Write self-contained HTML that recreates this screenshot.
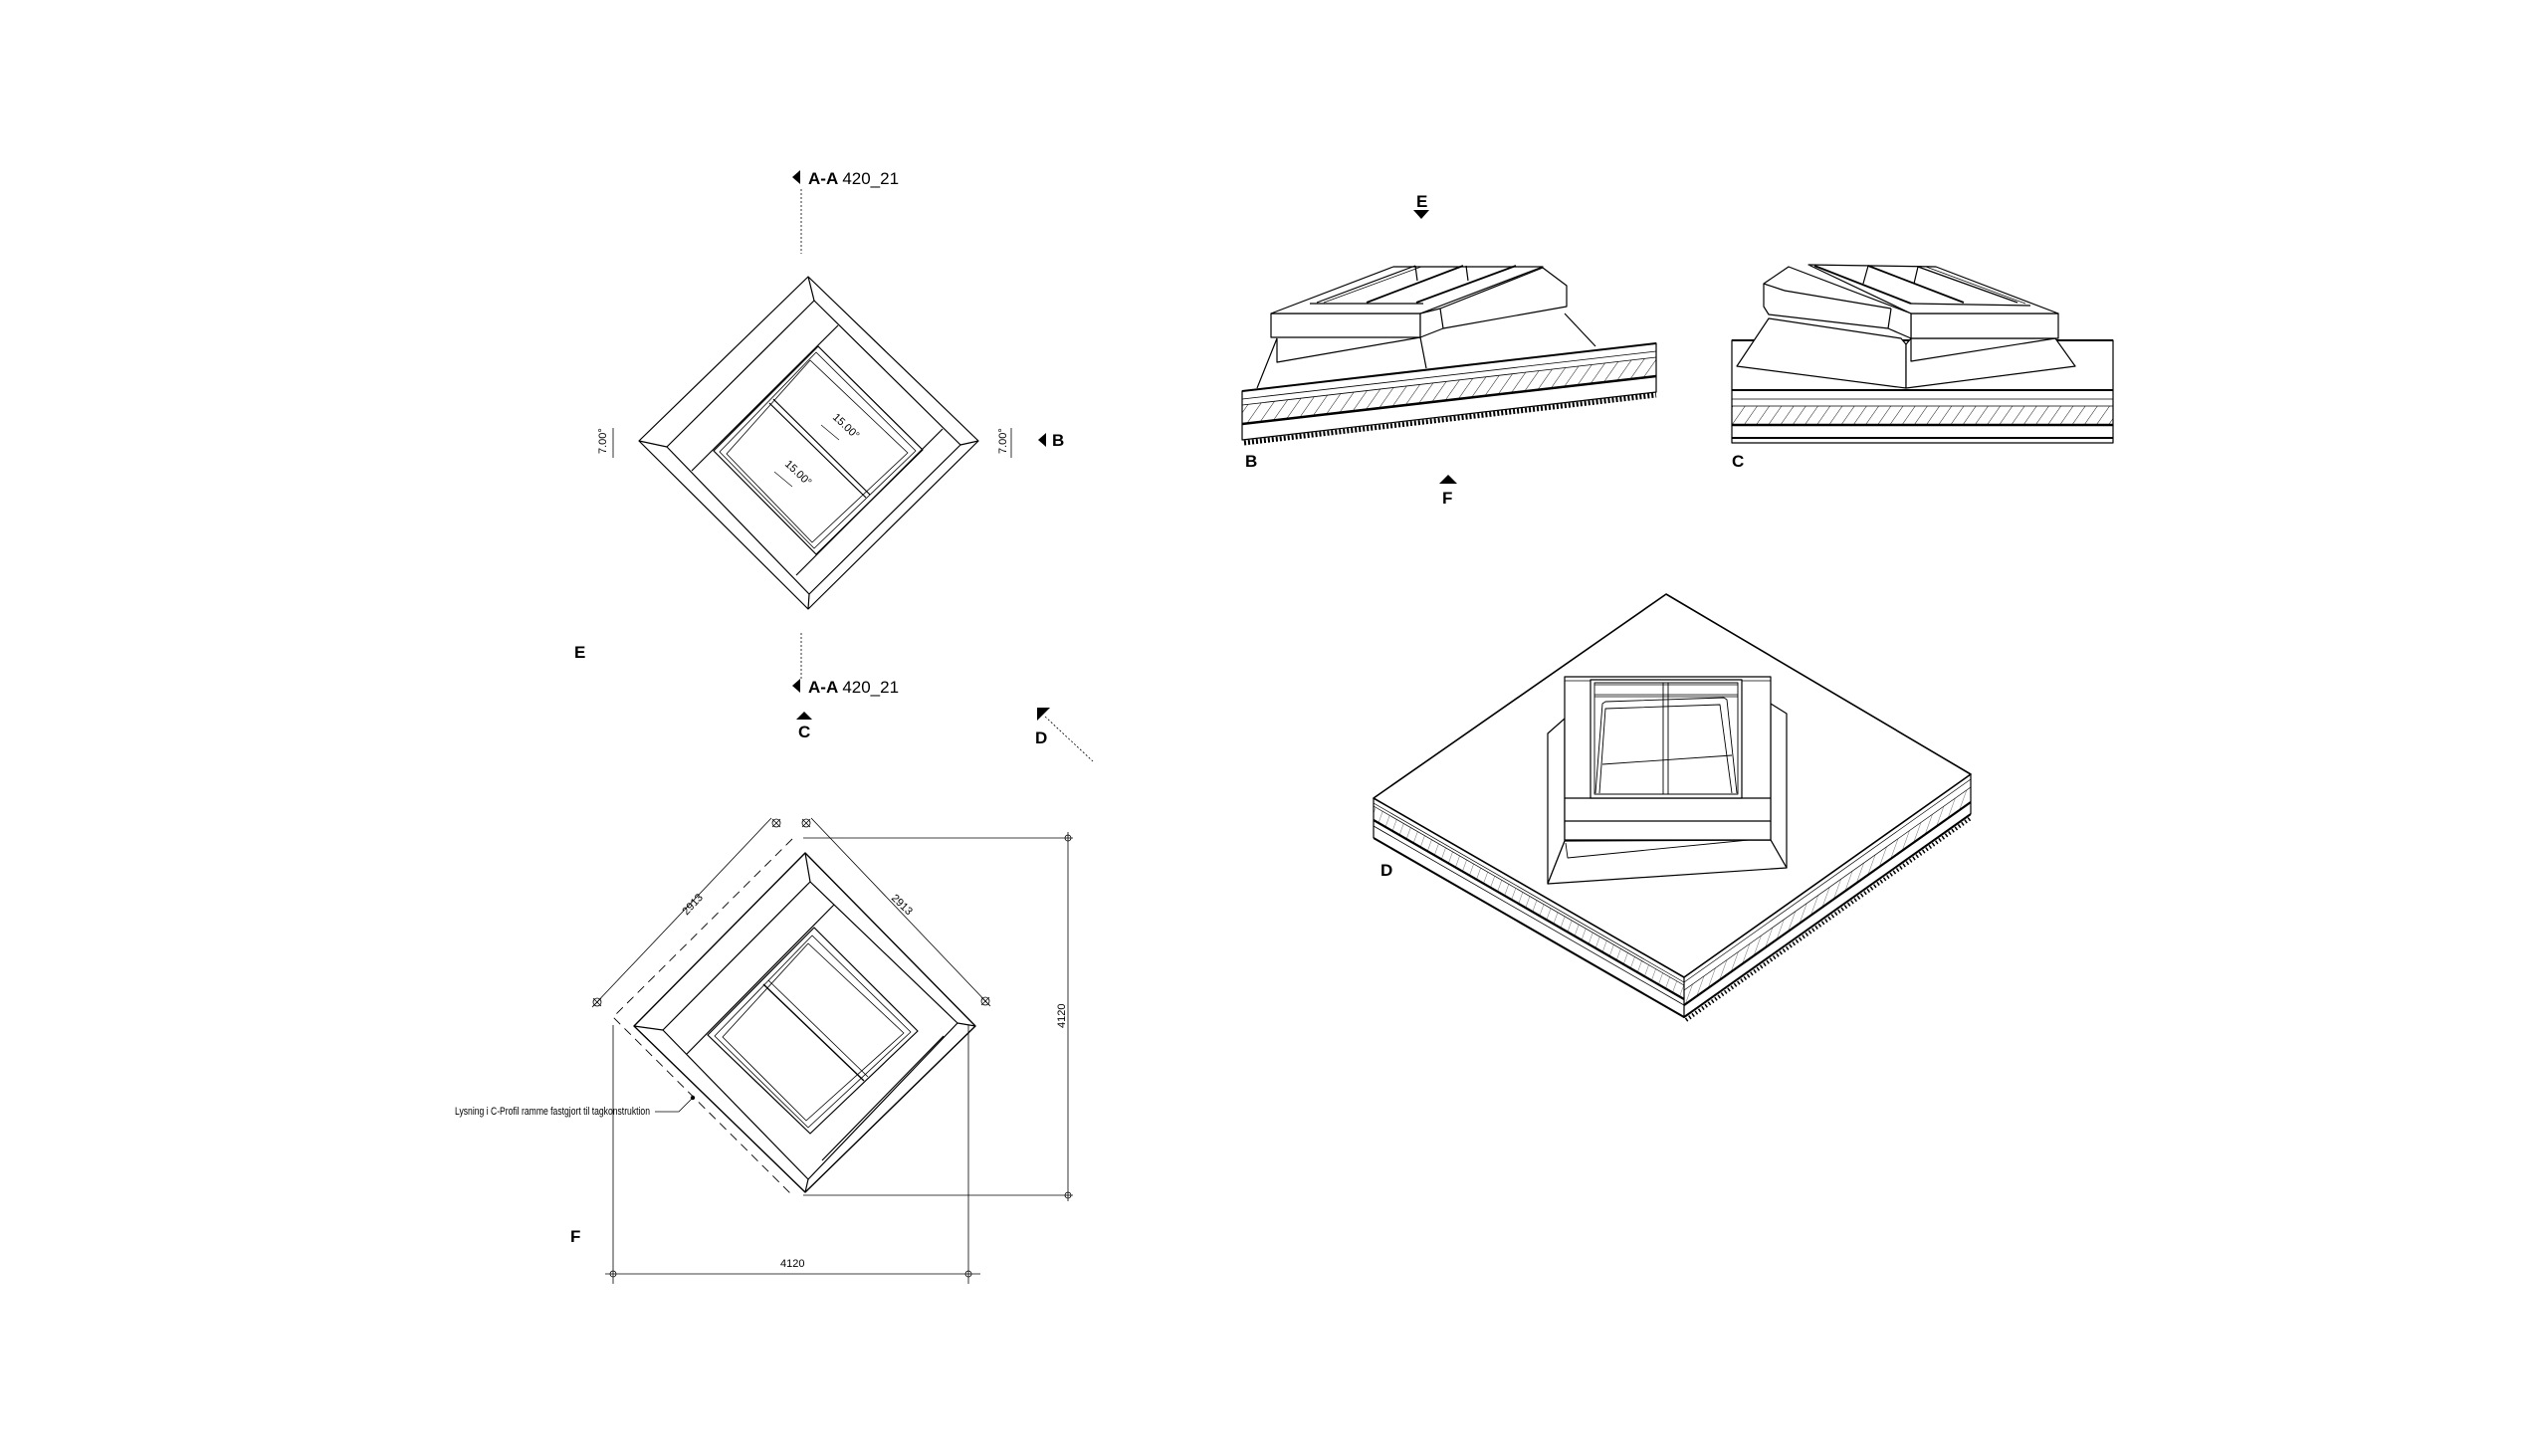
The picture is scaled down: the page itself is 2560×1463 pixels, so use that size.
<!DOCTYPE html>
<html><head><meta charset="utf-8"><style>
html,body{margin:0;padding:0;background:#fff}
svg{display:block}
text{font-family:"Liberation Sans",sans-serif;fill:#000}
.b{font-weight:bold;font-size:17px}
.s{font-size:11px}
.t{font-size:11px;font-family:"Liberation Sans Narrow","Liberation Sans",sans-serif}
</style></head><body>
<svg width="2560" height="1463" viewBox="0 0 2560 1463" xmlns="http://www.w3.org/2000/svg">
<defs>
<pattern id="h" width="10" height="10" patternUnits="userSpaceOnUse" patternTransform="rotate(35)">
<line x1="0" y1="0" x2="0" y2="10" stroke="#000" stroke-width="0.9"/>
</pattern>
<pattern id="h2" width="8" height="8" patternUnits="userSpaceOnUse" patternTransform="rotate(20)">
<line x1="0" y1="0" x2="0" y2="8" stroke="#333" stroke-width="0.7"/>
</pattern>
</defs>
<rect width="2560" height="1463" fill="#fff"/>
<g fill="none" stroke="#000" stroke-width="1.2" stroke-linejoin="round">

<!-- ===== TOP PLAN (E) ===== -->
<polygon points="812,278 983,443 812,612 642,443"/>
<polygon points="818,302 965,447 813,597 670,449"/>
<line x1="812" y1="278" x2="818" y2="302"/><line x1="983" y1="443" x2="965" y2="447"/>
<line x1="812" y1="612" x2="813" y2="597"/><line x1="642" y1="443" x2="670" y2="449"/>
<line x1="842" y1="327" x2="695" y2="473"/>
<line x1="947" y1="431" x2="800" y2="578"/>
<polygon points="822,348 927,452 820,557 717,453"/>
<polygon points="820,354 920,453 818,551 723,454" stroke-width="0.8"/>
<polygon points="814,362 912,455 816,545 730,456" stroke-width="0.8"/>
<line x1="773" y1="405" x2="870" y2="500"/><line x1="777" y1="401" x2="874" y2="497"/>
<!-- labels -->
<polygon points="796,178 804,171 804,185" fill="#000" stroke="none"/>
<line x1="805" y1="190" x2="805" y2="255" stroke-width="0.8" stroke-dasharray="2,2"/>
<polygon points="796,689 804,682 804,696" fill="#000" stroke="none"/>
<line x1="805" y1="636" x2="805" y2="682" stroke-width="0.8" stroke-dasharray="2,2"/>
<polygon points="800,723 808,715 816,723" fill="#000" stroke="none"/>
<polygon points="1042,711 1055,711 1042,724" fill="#000" stroke="none"/>
<line x1="1050" y1="720" x2="1098" y2="765" stroke-width="0.8" stroke-dasharray="2,2"/>
<polygon points="1043,442 1051,435 1051,449" fill="#000" stroke="none"/>
<line x1="616" y1="430" x2="616" y2="460" stroke-width="0.8"/>
<line x1="1016" y1="430" x2="1016" y2="460" stroke-width="0.8"/>
<line x1="825" y1="427" x2="843" y2="442" stroke-width="0.6"/>
<line x1="778" y1="474" x2="796" y2="489" stroke-width="0.6"/>

<!-- ===== SECTION B ===== -->
<polygon points="1248,393 1664,345 1664,394 1248,442" fill="#fff"/>
<line x1="1248" y1="401" x2="1664" y2="353" stroke-width="0.8"/>
<line x1="1248" y1="407" x2="1664" y2="359" stroke-width="0.8"/>
<polygon points="1248,407 1664,359 1664,378 1248,426" fill="url(#h)" stroke="none"/>
<line x1="1248" y1="426" x2="1664" y2="378" stroke-width="2.5"/>
<line x1="1248" y1="393" x2="1664" y2="345" stroke-width="2"/>
<line x1="1250" y1="445" x2="1664" y2="397" stroke-width="5" stroke-dasharray="2,2"/>
<!-- skylight B -->
<polygon points="1263,390 1283,340 1427,339 1433,368 1450,330 1574,308 1603,348 1433,369" fill="#fff" stroke="none"/>
<line x1="1283" y1="340" x2="1263" y2="390"/>
<polyline points="1283,340 1283,364 1427,339"/>
<line x1="1427" y1="339" x2="1433" y2="370"/>
<line x1="1572" y1="315" x2="1603" y2="348"/>
<rect x="1277" y="315" width="150" height="24" fill="#fff"/>
<polygon points="1277,315 1400,268 1550,268 1427,315" fill="#fff"/>
<polygon points="1427,315 1447,310 1550,269 1574,287 1574,308 1450,330 1427,339" fill="#fff"/>
<line x1="1447" y1="310" x2="1450" y2="330"/>
<line x1="1323" y1="304" x2="1422" y2="267"/><line x1="1330" y1="304" x2="1428" y2="268" stroke-width="0.7"/>
<line x1="1373" y1="304" x2="1470" y2="267" stroke-width="1.8"/>
<line x1="1423" y1="304" x2="1523" y2="267" stroke-width="1.8"/>
<line x1="1422" y1="267" x2="1424" y2="282"/><line x1="1473" y1="267" x2="1475" y2="282"/>
<line x1="1316" y1="305" x2="1430" y2="305"/>

<!-- ===== SECTION C ===== -->
<rect x="1740" y="342" width="383" height="103" fill="#fff"/>
<line x1="1740" y1="342" x2="2123" y2="342" stroke-width="2"/>
<line x1="1740" y1="392" x2="2123" y2="392" stroke-width="2"/>
<line x1="1740" y1="401" x2="2123" y2="401" stroke-width="0.8"/>
<rect x="1740" y="408" width="383" height="19" fill="url(#h)" stroke="none"/>
<line x1="1740" y1="408" x2="2123" y2="408" stroke-width="0.8"/>
<line x1="1740" y1="427" x2="2123" y2="427" stroke-width="2.5"/>
<line x1="1740" y1="440" x2="2123" y2="440" stroke-width="2"/>
<line x1="1740" y1="445" x2="2123" y2="445" stroke-width="0.8"/>
<polygon points="1777,320 1910,340 1915,346 1915,390 1745,368" fill="#fff"/>
<polygon points="1915,390 1915,346 1920,340 2065,340 2085,368" fill="#fff"/>
<polyline points="1920,340 1920,363 2065,340"/>
<rect x="1920" y="315" width="148" height="25" fill="#fff"/>
<polygon points="1817,266 1945,268 2068,315 1920,315" fill="#fff"/>
<polygon points="1772,285 1797,268 1920,315 1920,340 1897,330 1777,316 1772,308" fill="#fff"/>
<line x1="1793" y1="292" x2="1900" y2="310"/><line x1="1900" y1="310" x2="1897" y2="330"/>
<line x1="1772" y1="285" x2="1793" y2="292"/>
<line x1="1823" y1="267" x2="1920" y2="305" stroke-width="1.8"/>
<line x1="1877" y1="267" x2="1973" y2="304" stroke-width="1.8"/>
<line x1="1927" y1="268" x2="2027" y2="304"/><line x1="1935" y1="268" x2="2035" y2="305" stroke-width="0.7"/>
<line x1="1877" y1="267" x2="1872" y2="285"/><line x1="1927" y1="268" x2="1923" y2="285"/>
<line x1="1920" y1="305" x2="2040" y2="307"/>

<!-- ===== ISOMETRIC D ===== -->
<polygon points="1674,597 1980,778 1692,982 1380,802" fill="#fff" stroke-width="1.6"/>
<polygon points="1380,810 1692,990 1692,1004 1380,824" fill="url(#h2)" stroke="none"/>
<polygon points="1692,995 1980,791 1980,806 1692,1010" fill="url(#h2)" stroke="none"/>
<line x1="1380" y1="802" x2="1380" y2="842"/><line x1="1692" y1="982" x2="1692" y2="1022"/><line x1="1980" y1="778" x2="1980" y2="818"/>
<polyline points="1380,807 1692,987 1980,783" stroke-width="0.7"/>
<polyline points="1380,810 1692,990" stroke-width="0.7"/><line x1="1692" y1="995" x2="1980" y2="791" stroke-width="0.7"/>
<polyline points="1380,824 1692,1004" stroke-width="2.2"/><line x1="1692" y1="1010" x2="1980" y2="806" stroke-width="2.2"/>
<polyline points="1380,830 1692,1010" stroke-width="0.8"/>
<polyline points="1380,842 1692,1022 1980,818" stroke-width="2"/>
<line x1="1694" y1="1025" x2="1980" y2="822" stroke-width="4" stroke-dasharray="1.5,2.5"/>
<!-- skylight in D -->
<polygon points="1555,737 1572,722 1572,845 1555,888" fill="#fff"/>
<polygon points="1779,707 1795,717 1795,872 1779,844" fill="#fff"/>
<polygon points="1555,888 1572,845 1779,844 1795,872" fill="#fff"/>
<polyline points="1573,847 1575,862 1767,843" stroke-width="0.9"/>
<rect x="1572" y="680" width="207" height="164" fill="#fff"/>
<line x1="1572" y1="684" x2="1779" y2="684" stroke-width="0.8"/>
<line x1="1572" y1="802" x2="1779" y2="802"/>
<line x1="1572" y1="825" x2="1779" y2="825"/>
<rect x="1598" y="683" width="152" height="119" fill="#fff"/>
<rect x="1602" y="686" width="144" height="112" stroke-width="0.9"/>
<rect x="1671" y="686" width="5" height="112" fill="#fff" stroke-width="0.9"/>
<line x1="1602" y1="688" x2="1746" y2="688" stroke-width="0.8"/>
<line x1="1602" y1="698" x2="1746" y2="698" stroke-width="0.8"/>
<line x1="1602" y1="700" x2="1746" y2="700" stroke-width="0.8"/>
<polyline points="1603,797 1610,707 1613,705 1732,701 1735,703 1745,797" stroke-width="0.9"/>
<polyline points="1607,797 1613,712 1728,708 1740,797" stroke-width="0.9"/>
<line x1="1610" y1="768" x2="1740" y2="759" stroke-width="0.9"/>

<!-- ===== BOTTOM PLAN (F) ===== -->
<polygon points="809,857 980,1031 809,1198 637,1031" stroke-width="1.4"/>
<polygon points="814,886 962,1028 812,1185 666,1035"/>
<line x1="809" y1="857" x2="814" y2="886"/><line x1="980" y1="1031" x2="962" y2="1028"/>
<line x1="809" y1="1198" x2="812" y2="1185"/><line x1="637" y1="1031" x2="666" y2="1035"/>
<line x1="838" y1="909" x2="690" y2="1059"/>
<line x1="948" y1="1041" x2="826" y2="1166"/>
<line x1="838" y1="909" x2="948" y2="1041" stroke-width="0"/>
<polygon points="818,932 922,1036 814,1139 711,1040"/>
<polygon points="816,940 915,1037 812,1133 718,1041" stroke-width="0.8"/>
<polygon points="812,948 908,1038 810,1126 726,1042" stroke-width="0.8"/>
<line x1="767" y1="989" x2="868" y2="1086" stroke-width="1.4"/>
<line x1="772" y1="985" x2="872" y2="1082" stroke-width="0.8"/>
<polyline points="796,843 616,1022 796,1201" stroke-width="0.9" stroke-dasharray="9,6"/>
<g stroke-width="0.8">
<line x1="775" y1="822" x2="595" y2="1012"/>
<line x1="815" y1="822" x2="995" y2="1011"/>
<line x1="807" y1="842" x2="1078" y2="842"/>
<line x1="807" y1="1201" x2="1078" y2="1201"/>
<line x1="1073" y1="836" x2="1073" y2="1207"/>
<line x1="616" y1="1030" x2="616" y2="1290"/>
<line x1="973" y1="1030" x2="973" y2="1290"/>
<line x1="608" y1="1280" x2="985" y2="1280"/>
<circle cx="780" cy="827" r="4"/><circle cx="600" cy="1007" r="4"/>
<circle cx="810" cy="827" r="4"/><circle cx="990" cy="1006" r="4"/>
<circle cx="1073" cy="842" r="3"/><circle cx="1073" cy="1201" r="3"/>
<circle cx="616" cy="1280" r="3"/><circle cx="973" cy="1280" r="3"/>
<path d="M776,823l8,8M784,823l-8,8M596,1003l8,8M604,1003l-8,8M806,823l8,8M814,823l-8,8M986,1002l8,8M994,1002l-8,8"/>
<polyline points="658,1117 682,1117 695,1104"/>
</g>
<circle cx="696" cy="1103" r="1.6" fill="#000"/>
</g>

<!-- ===== TEXT ===== -->
<text x="812" y="185" class="b">A-A <tspan font-weight="normal">420_21</tspan></text>
<text x="812" y="696" class="b">A-A <tspan font-weight="normal">420_21</tspan></text>
<text x="802" y="741" class="b">C</text>
<text x="1040" y="747" class="b">D</text>
<text x="577" y="661" class="b">E</text>
<text x="1057" y="448" class="b">B</text>
<text transform="translate(609,456) rotate(-90)" class="s">7.00°</text>
<text transform="translate(1011,456) rotate(-90)" class="s">7.00°</text>
<text transform="translate(836,420) rotate(43)" class="s">15.00°</text>
<text transform="translate(788,467) rotate(43)" class="s">15.00°</text>
<polygon points="1420,211 1436,211 1428,220" fill="#000"/>
<text x="1423" y="208" class="b" font-size="15">E</text>
<polygon points="1446,486 1455,477 1464,486" fill="#000"/>
<text x="1449" y="506" class="b" font-size="15">F</text>
<text x="1251" y="469" class="b" font-size="15">B</text>
<text x="1740" y="469" class="b" font-size="15">C</text>
<text x="1387" y="880" class="b" font-size="15">D</text>
<text x="573" y="1248" class="b" font-size="15">F</text>
<text transform="translate(690,920) rotate(-47)" class="s">2913</text>
<text transform="translate(895,903) rotate(44)" class="s">2913</text>
<text transform="translate(1070,1033) rotate(-90)" class="s">4120</text>
<text x="784" y="1273" class="s">4120</text>
<text x="457" y="1120" class="t" font-size="10.5" textLength="196" lengthAdjust="spacingAndGlyphs">Lysning i C-Profil ramme fastgjort til tagkonstruktion</text>
</svg>
</body></html>
